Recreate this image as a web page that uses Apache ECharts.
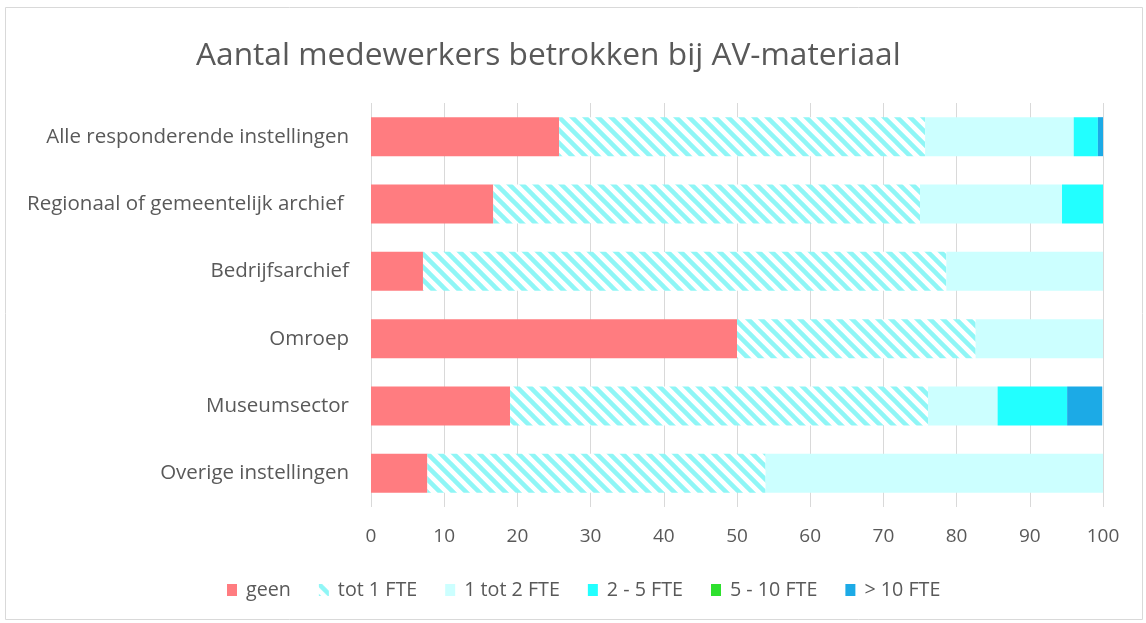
<!DOCTYPE html>
<html>
<head>
<meta charset="utf-8">
<script src="https://cdn.jsdelivr.net/npm/echarts@6/dist/echarts.min.js"></script>
<style>
  html, body { margin: 0; padding: 0; background: #fff; }
  #chart { width: 1146px; height: 623px; }
</style>
</head>
<body>
<div id="chart"></div>
<script>
// categorieen, van boven naar onder
const categories = [
  "Alle responderende instellingen",
  "Regionaal of gemeentelijk archief ",
  "Bedrijfsarchief",
  "Omroep",
  "Museumsector",
  "Overige instellingen"
];
const seriesNames = ["geen", "tot 1 FTE", "1 tot 2 FTE", "2 - 5 FTE", "5 - 10 FTE", "> 10 FTE"];
// percentages per categorie
const geen = [25.7, 16.7, 7.1, 50.0, 19.0, 7.7];
const tot1 = [50.0, 58.3, 71.5, 32.6, 57.1, 46.2];
const een2 = [20.3, 19.4, 21.4, 17.4, 9.5, 46.1];
const twee5 = [3.3, 5.6, 0, 0, 9.5, 0];
const vijf10 = [0, 0, 0, 0, 0, 0];
const meer10 = [0.7, 0, 0, 0, 4.8, 0];
const xTicks = [0, 10, 20, 30, 40, 50, 60, 70, 80, 90, 100];

const colors = ["#FF7C80", null, "#CCFFFF", "#22FFFF", "#2EE02E", "#1CAAE6"];

// schuine arcering voor "tot 1 FTE"
function hatch() {
  const s = 13;
  const c = document.createElement("canvas");
  c.width = s; c.height = s;
  const ctx = c.getContext("2d");
  ctx.fillStyle = "#fff";
  ctx.fillRect(0, 0, s, s);
  ctx.strokeStyle = "#8FF6F6";
  ctx.lineWidth = 4.5;
  for (let k = -1; k <= 1; k++) {
    ctx.beginPath();
    ctx.moveTo(k * s - 2, -2);
    ctx.lineTo(k * s + s + 2, s + 2);
    ctx.stroke();
  }
  return { image: c, repeat: "repeat" };
}
colors[1] = hatch();

const font = "Open Sans";
const allData = [geen, tot1, een2, twee5, vijf10, meer10];

const chart = echarts.init(document.getElementById("chart"));
const option = {
  animation: false,
  title: {
    text: "Aantal medewerkers betrokken bij AV-materiaal",
    left: 191,
    top: 35,
    textStyle: { fontFamily: font, fontSize: 31.7, fontWeight: "normal", color: "#595959" }
  },
  graphic: [{
    type: "rect",
    shape: { x: 5.5, y: 7.5, width: 1137, height: 612 },
    style: { fill: "none", stroke: "#D9D9D9", lineWidth: 1 },
    silent: true
  }],
  legend: {
    bottom: 18,
    left: 222,
    itemWidth: 10,
    itemHeight: 12,
    itemGap: 28,
    icon: "rect",
    textStyle: { fontFamily: font, fontSize: 19.7, color: "#595959", padding: [0, 0, 0, 4] },
    data: seriesNames
  },
  grid: { left: 371, right: 43, top: 103, height: 404 },
  xAxis: {
    type: "value",
    min: 0,
    max: 100,
    interval: 10,
    axisLine: { show: false },
    axisTick: { show: false },
    splitLine: { lineStyle: { color: "#D9D9D9", width: 1 } },
    axisLabel: {
      fontFamily: font, fontSize: 19, color: "#595959", margin: 20,
      formatter: v => xTicks.indexOf(v) >= 0 ? String(v) : ""
    }
  },
  yAxis: {
    type: "category",
    inverse: true,
    data: categories,
    axisLine: { show: false },
    axisTick: { show: false },
    axisLabel: { fontFamily: font, fontSize: 20.5, color: "#595959", margin: 22 }
  },
  series: seriesNames.map((name, i) => ({
    name: name,
    type: "bar",
    stack: "totaal",
    barWidth: 39,
    itemStyle: { color: colors[i] },
    data: allData[i]
  }))
};
chart.setOption(option);
</script>
</body>
</html>
